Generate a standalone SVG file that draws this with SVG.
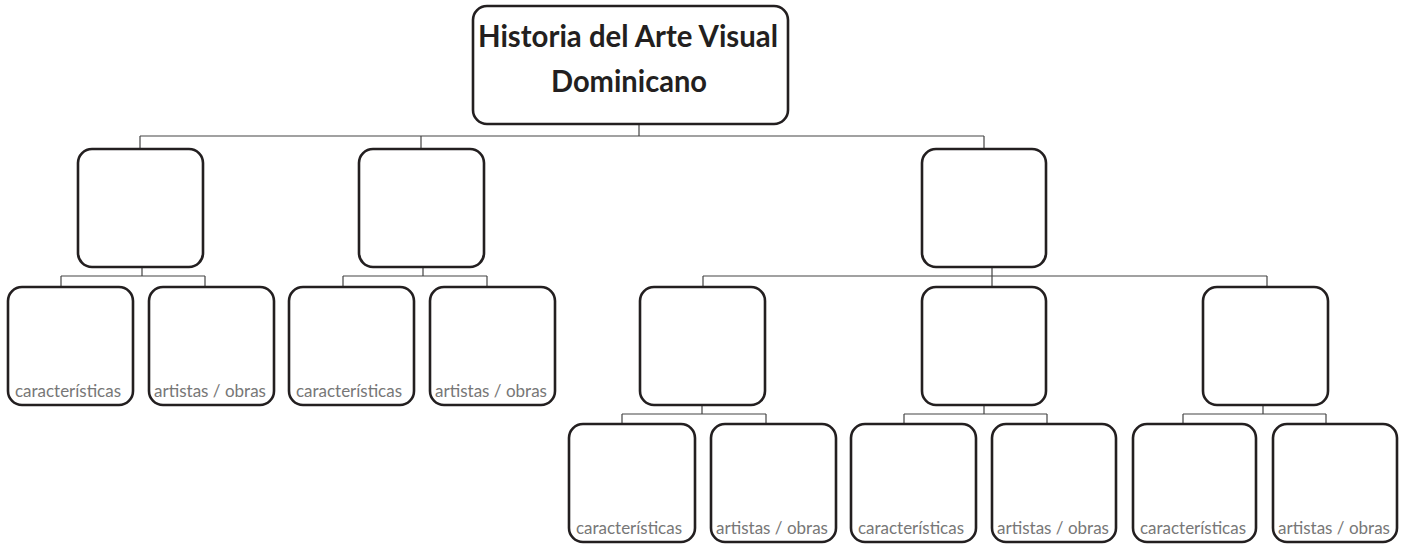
<svg xmlns="http://www.w3.org/2000/svg" width="1405" height="545" viewBox="0 0 1405 545">
<style>
.box{fill:#fff;stroke:#231f20;stroke-width:2.6}
.con{fill:none;stroke:#444;stroke-width:1.2}
.lbl{font-family:Lato,"Open Sans","Liberation Sans",sans-serif;font-size:16.5px;fill:#777}
.title{font-family:Lato,"Open Sans","Liberation Sans",sans-serif;font-size:30px;font-weight:bold;fill:#231f20;text-anchor:middle}
</style>
<rect width="1405" height="545" fill="#fff"/>
<g id="connectors">
<path class="con" d="M639 125V136M140 136H984M140 136V148M421 136V148M984 136V148"/>
<path class="con" d="M142 268V276M61 276H205M61 276V286M205 276V286"/>
<path class="con" d="M423 268V276M343 276H487M343 276V286M487 276V286"/>
<path class="con" d="M992 268V286M703 276H1267M703 276V286M1267 276V286"/>
<path class="con" d="M702 406V414M622 414H766M622 414V423M766 414V423"/>
<path class="con" d="M984 406V414M904 414H1047M904 414V423M1047 414V423"/>
<path class="con" d="M1263 406V414M1183 414H1326M1183 414V423M1326 414V423"/>
</g>
<g id="root">
<rect class="box" x="473" y="6" width="315" height="118" rx="14"/>
<text class="title" x="628" y="47" textLength="300" lengthAdjust="spacingAndGlyphs">Historia del Arte Visual</text>
<text class="title" x="629" y="92" textLength="156" lengthAdjust="spacingAndGlyphs">Dominicano</text>
</g>
<g id="period1"><rect class="box" x="78" y="149" width="125" height="118" rx="14"/></g>
<g id="period2"><rect class="box" x="359" y="149" width="125" height="118" rx="14"/></g>
<g id="period3"><rect class="box" x="922" y="149" width="124" height="118" rx="14"/></g>
<g id="p1-caract"><rect class="box" x="8" y="287" width="125" height="118" rx="14"/><text class="lbl" x="15" y="397" textLength="106" lengthAdjust="spacingAndGlyphs">características</text></g>
<g id="p1-artistas"><rect class="box" x="149" y="287" width="125" height="118" rx="14"/><text class="lbl" x="154" y="397" textLength="112" lengthAdjust="spacingAndGlyphs">artistas / obras</text></g>
<g id="p2-caract"><rect class="box" x="289" y="287" width="125" height="118" rx="14"/><text class="lbl" x="296" y="397" textLength="106" lengthAdjust="spacingAndGlyphs">características</text></g>
<g id="p2-artistas"><rect class="box" x="430" y="287" width="125" height="118" rx="14"/><text class="lbl" x="435" y="397" textLength="112" lengthAdjust="spacingAndGlyphs">artistas / obras</text></g>
<g id="sub1"><rect class="box" x="640" y="287" width="125" height="118" rx="14"/></g>
<g id="sub2"><rect class="box" x="922" y="287" width="124" height="118" rx="14"/></g>
<g id="sub3"><rect class="box" x="1203" y="287" width="125" height="118" rx="14"/></g>
<g id="s1-caract"><rect class="box" x="569" y="424" width="126" height="118" rx="14"/><text class="lbl" x="576" y="534" textLength="106" lengthAdjust="spacingAndGlyphs">características</text></g>
<g id="s1-artistas"><rect class="box" x="711" y="424" width="125" height="118" rx="14"/><text class="lbl" x="716" y="534" textLength="112" lengthAdjust="spacingAndGlyphs">artistas / obras</text></g>
<g id="s2-caract"><rect class="box" x="851" y="424" width="125" height="118" rx="14"/><text class="lbl" x="858" y="534" textLength="106" lengthAdjust="spacingAndGlyphs">características</text></g>
<g id="s2-artistas"><rect class="box" x="992" y="424" width="124" height="118" rx="14"/><text class="lbl" x="997" y="534" textLength="112" lengthAdjust="spacingAndGlyphs">artistas / obras</text></g>
<g id="s3-caract"><rect class="box" x="1133" y="424" width="123" height="118" rx="14"/><text class="lbl" x="1140" y="534" textLength="106" lengthAdjust="spacingAndGlyphs">características</text></g>
<g id="s3-artistas"><rect class="box" x="1273" y="424" width="124" height="118" rx="14"/><text class="lbl" x="1278" y="534" textLength="112" lengthAdjust="spacingAndGlyphs">artistas / obras</text></g>
</svg>
